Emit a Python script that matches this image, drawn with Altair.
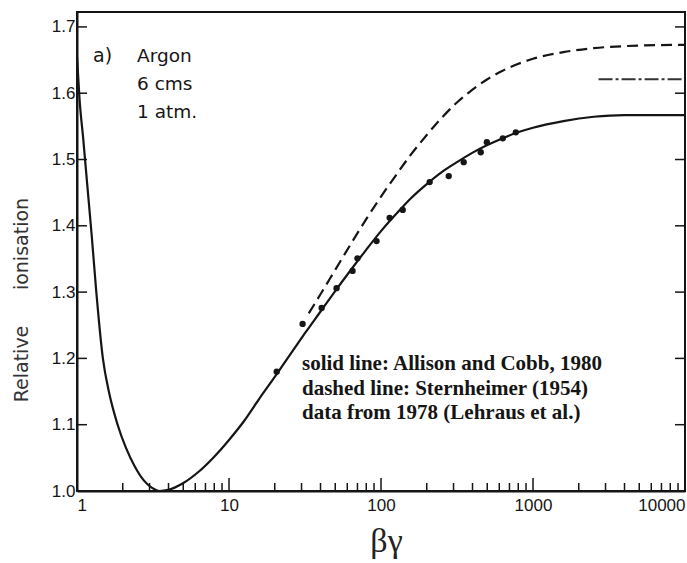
import altair as alt
import pandas as pd

# ---- data ----
solid_bg = [1.0, 1.04, 1.1, 1.17, 1.25, 1.34, 1.48, 1.62, 1.85, 2.1, 2.4, 2.75, 3.1, 3.5,
            3.98, 5.01, 6.31, 7.94, 10.0, 12.6, 15.8, 20.0, 25.1, 31.6, 39.8, 50.1, 63.1,
            79.4, 100, 126, 158, 200, 251, 316, 398, 501, 631, 794, 1000, 1585, 2512, 3981,
            10000]
solid_val = [1.655, 1.59, 1.53, 1.46, 1.385, 1.30, 1.20, 1.15, 1.10, 1.065, 1.037, 1.016,
             1.005, 1.0, 1.0017, 1.012, 1.029, 1.051, 1.077, 1.106, 1.139, 1.172, 1.205,
             1.238, 1.27, 1.302, 1.333, 1.363, 1.392, 1.418, 1.442, 1.463, 1.481, 1.496,
             1.51, 1.522, 1.532, 1.541, 1.548, 1.558, 1.5645, 1.567, 1.567]

dashed_bg = [33.5, 39.8, 50.1, 63.1, 79.4, 100, 126, 158, 200, 251, 316, 398, 501, 631,
             794, 1000, 1585, 2512, 3981, 10000]
dashed_val = [1.268, 1.296, 1.334, 1.372, 1.409, 1.444, 1.477, 1.508, 1.537, 1.563, 1.586,
              1.605, 1.621, 1.634, 1.644, 1.652, 1.662, 1.668, 1.671, 1.673]

dashdot_bg = [2700, 10000]
dashdot_val = [1.621, 1.621]

points_bg = [20.6, 30.5, 40.7, 51, 65, 70, 93.5, 114, 139, 209, 279, 350, 453, 497, 633, 771]
points_val = [1.18, 1.252, 1.276, 1.306, 1.332, 1.351, 1.377, 1.412, 1.424, 1.466, 1.475,
              1.496, 1.511, 1.526, 1.532, 1.541]

x_major = [1, 10, 100, 1000, 10000]
x_minor = [m * 10 ** k for k in range(4) for m in range(2, 10)]
y_ticks = [1.0, 1.1, 1.2, 1.3, 1.4, 1.5, 1.6, 1.7]

panel_label = "a)"
panel_note = ["Argon", "6 cms", "1 atm."]
legend_lines = ["solid line: Allison and Cobb, 1980",
                "dashed line: Sternheimer (1954)",
                "data from 1978 (Lehraus et al.)"]
y_title_parts = ["Relative", "ionisation"]
x_title = "βγ"

# ---- styling ----
INK = "#151515"
W, H = 608, 479
SANS = "DejaVu Sans"
TICKFONT = "Liberation Sans"
SERIF = "Liberation Serif"

xs = alt.Scale(type="log", domain=[1, 10000], nice=False)
ys = alt.Scale(domain=[1.0, 1.7225], nice=False, zero=False)

df_solid = pd.DataFrame({"bg": solid_bg, "v": solid_val})
df_dash = pd.DataFrame({"bg": dashed_bg, "v": dashed_val})
df_dd = pd.DataFrame({"bg": dashdot_bg, "v": dashdot_val})
df_pts = pd.DataFrame({"bg": points_bg, "v": points_val})
one = pd.DataFrame({"k": [0]})

x_axis = alt.Axis(values=x_major, format="d", ticks=False, grid=False,
                  domainColor=INK, domainWidth=2, labelFont=TICKFONT, labelFontSize=17,
                  labelColor=INK, labelPadding=6, labelOverlap=False,
                  title=x_title, titleFont=SERIF, titleFontSize=34, titleFontWeight="normal",
                  titleColor="#222222", titleY=60, titleX=309, titleBaseline="alphabetic")
y_axis = alt.Axis(values=y_ticks, format=".1f", ticks=False, grid=False,
                  domainColor=INK, domainWidth=2, labelFont=TICKFONT, labelFontSize=17,
                  labelColor=INK, labelPadding=2, labelOverlap=False, title=None)

solid = alt.Chart(df_solid).mark_line(color=INK, strokeWidth=2.2, interpolate="monotone").encode(
    x=alt.X("bg:Q", scale=xs, axis=x_axis),
    y=alt.Y("v:Q", scale=ys, axis=y_axis),
)
dashed = alt.Chart(df_dash).mark_line(color=INK, strokeWidth=2.2, strokeDash=[11, 6],
                                      interpolate="monotone").encode(
    x=alt.X("bg:Q", scale=xs), y=alt.Y("v:Q", scale=ys))
dashdot = alt.Chart(df_dd).mark_line(color="#333333", strokeWidth=2, strokeDash=[14, 3, 3, 3]).encode(
    x=alt.X("bg:Q", scale=xs), y=alt.Y("v:Q", scale=ys))
dots = alt.Chart(df_pts).mark_circle(color=INK, size=40, opacity=1).encode(
    x=alt.X("bg:Q", scale=xs), y=alt.Y("v:Q", scale=ys))

# inward ticks
xmin_t = alt.Chart(pd.DataFrame({"bg": x_minor})).mark_rule(color=INK, strokeWidth=1.5).encode(
    x=alt.X("bg:Q", scale=xs), y=alt.value(H), y2=alt.value(H - 8))
xmaj_t = alt.Chart(pd.DataFrame({"bg": x_major})).mark_rule(color=INK, strokeWidth=1.5).encode(
    x=alt.X("bg:Q", scale=xs), y=alt.value(H), y2=alt.value(H - 13))
yl_t = alt.Chart(pd.DataFrame({"v": y_ticks})).mark_rule(color=INK, strokeWidth=1.5).encode(
    y=alt.Y("v:Q", scale=ys), x=alt.value(0), x2=alt.value(10))
yr_t = alt.Chart(pd.DataFrame({"v": y_ticks})).mark_rule(color=INK, strokeWidth=1.5).encode(
    y=alt.Y("v:Q", scale=ys), x=alt.value(W - 10), x2=alt.value(W))

# annotations
t_a = alt.Chart(one).mark_text(font=SANS, fontSize=19, color=INK, align="left",
                               baseline="alphabetic").encode(
    x=alt.value(16), y=alt.value(50), text=alt.value(panel_label))
t_note = alt.Chart(one).mark_text(font=SANS, fontSize=18.5, color=INK, align="left",
                                  baseline="alphabetic", lineHeight=28).encode(
    x=alt.value(60), y=alt.value(50), text=alt.value(panel_note))
t_leg = alt.Chart(one).mark_text(font=SERIF, fontSize=21, fontWeight="bold", color=INK,
                                 align="left", baseline="alphabetic", lineHeight=24.5).encode(
    x=alt.value(225), y=alt.value(358), text=alt.value(legend_lines))
t_y1 = alt.Chart(one).mark_text(font=SANS, fontSize=19, color="#333333", angle=270,
                                align="center", baseline="middle").encode(
    x=alt.value(-55), y=alt.value(352), text=alt.value(y_title_parts[0]))
t_y2 = alt.Chart(one).mark_text(font=SANS, fontSize=19, color="#333333", angle=270,
                                align="center", baseline="middle").encode(
    x=alt.value(-55), y=alt.value(232), text=alt.value(y_title_parts[1]))

chart = alt.layer(
    solid, dashed, dashdot, dots, xmin_t, xmaj_t, yl_t, yr_t, t_a, t_note, t_leg, t_y1, t_y2
).properties(
    width=W, height=H,
    padding={"left": 77, "top": 12, "right": 2, "bottom": 72},
    autosize=alt.AutoSizeParams(type="none"),
    background="white",
).configure_view(stroke=INK, strokeWidth=2)

chart.save("out.html", embed_options={"renderer": "svg", "actions": False})
